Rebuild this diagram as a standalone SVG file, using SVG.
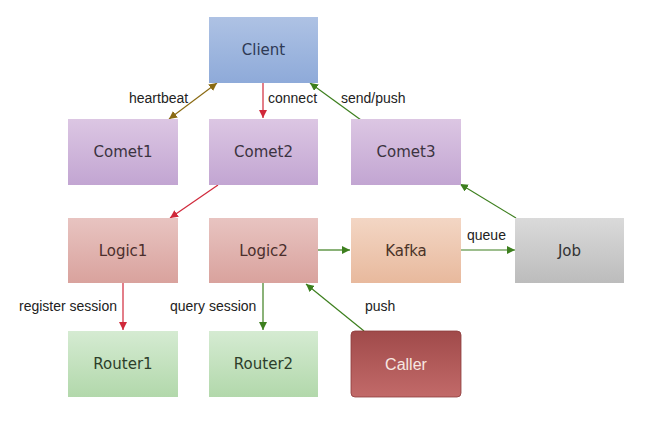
<svg xmlns="http://www.w3.org/2000/svg" width="648" height="422" viewBox="0 0 648 422">
<defs>
<linearGradient id="gClient" x1="0" y1="0" x2="0" y2="1"><stop offset="0" stop-color="#aec2e4"/><stop offset="1" stop-color="#8eaad9"/></linearGradient>
<linearGradient id="gComet" x1="0" y1="0" x2="0" y2="1"><stop offset="0" stop-color="#dcc6e3"/><stop offset="1" stop-color="#c2a5d2"/></linearGradient>
<linearGradient id="gLogic" x1="0" y1="0" x2="0" y2="1"><stop offset="0" stop-color="#e8c4c1"/><stop offset="1" stop-color="#d9a29d"/></linearGradient>
<linearGradient id="gKafka" x1="0" y1="0" x2="0" y2="1"><stop offset="0" stop-color="#f3d6c4"/><stop offset="1" stop-color="#e8b99d"/></linearGradient>
<linearGradient id="gJob" x1="0" y1="0" x2="0" y2="1"><stop offset="0" stop-color="#dadada"/><stop offset="1" stop-color="#bcbcbc"/></linearGradient>
<linearGradient id="gRouter" x1="0" y1="0" x2="0" y2="1"><stop offset="0" stop-color="#d5ebd2"/><stop offset="1" stop-color="#b2d8ab"/></linearGradient>
<linearGradient id="gCaller" x1="0" y1="0" x2="0" y2="1"><stop offset="0" stop-color="#a04a4a"/><stop offset="1" stop-color="#c26a69"/></linearGradient>
<marker id="aRed" viewBox="0 0 10 10" refX="10" refY="5" markerWidth="8" markerHeight="8" markerUnits="userSpaceOnUse" orient="auto"><path d="M0,0 L10,5 L0,10 z" fill="#d0283a"/></marker>
<marker id="aGreen" viewBox="0 0 10 10" refX="10" refY="5" markerWidth="8" markerHeight="8" markerUnits="userSpaceOnUse" orient="auto"><path d="M0,0 L10,5 L0,10 z" fill="#3d7f1e"/></marker>
<marker id="aOlive" viewBox="0 0 10 10" refX="10" refY="5" markerWidth="8" markerHeight="8" markerUnits="userSpaceOnUse" orient="auto-start-reverse"><path d="M0,0 L10,5 L0,10 z" fill="#8a6a12"/></marker>
</defs>
<style>
.node text{font-family:"DejaVu Sans",Verdana,sans-serif;font-size:15px;fill:#3b3340;text-anchor:middle;dominant-baseline:central}
.lbl{font-family:"Liberation Sans",Arial,sans-serif;font-size:14px;fill:#222}
.red{stroke:#d0283a;stroke-width:1.2;fill:none}
.green{stroke:#3d7f1e;stroke-width:1.2;fill:none}
.olive{stroke:#8a6a12;stroke-width:1.2;fill:none}
</style>
<rect width="648" height="422" fill="#ffffff"/>
<g id="connectors">
<line class="olive" x1="169" y1="119" x2="217" y2="83" marker-start="url(#aOlive)" marker-end="url(#aOlive)"/>
<line class="red" x1="263" y1="83" x2="263" y2="118" marker-end="url(#aRed)"/>
<line class="green" x1="361" y1="120" x2="310" y2="83" marker-end="url(#aGreen)"/>
<line class="red" x1="218" y1="185" x2="170" y2="218" marker-end="url(#aRed)"/>
<line class="green" x1="516" y1="218" x2="460" y2="184" marker-end="url(#aGreen)"/>
<line class="green" x1="318" y1="250" x2="350" y2="250" marker-end="url(#aGreen)"/>
<line class="green" x1="461" y1="250" x2="515" y2="250" marker-end="url(#aGreen)"/>
<line class="red" x1="123" y1="283" x2="123" y2="330" marker-end="url(#aRed)"/>
<line class="green" x1="263" y1="283" x2="263" y2="330" marker-end="url(#aGreen)"/>
<line class="green" x1="364" y1="331" x2="306" y2="284" marker-end="url(#aGreen)"/>
<text class="lbl" x="129" y="103">heartbeat</text>
<text class="lbl" x="268" y="103">connect</text>
<text class="lbl" x="341" y="103">send/push</text>
<text class="lbl" x="467" y="240">queue</text>
<text class="lbl" x="19" y="311">register session</text>
<text class="lbl" x="170" y="311">query session</text>
<text class="lbl" x="365" y="311">push</text>
</g>
<g id="client" class="node"><rect x="209" y="17" width="109" height="66" fill="url(#gClient)"/><text x="263.5" y="50" style="fill:#2e3a55">Client</text></g>
<g id="comet1" class="node"><rect x="68" y="119" width="110" height="66" fill="url(#gComet)"/><text x="123" y="152">Comet1</text></g>
<g id="comet2" class="node"><rect x="209" y="119" width="109" height="66" fill="url(#gComet)"/><text x="263.5" y="152">Comet2</text></g>
<g id="comet3" class="node"><rect x="351" y="119" width="110" height="66" fill="url(#gComet)"/><text x="406" y="152">Comet3</text></g>
<g id="logic1" class="node"><rect x="68" y="218" width="110" height="65" fill="url(#gLogic)"/><text x="123" y="250.5" style="fill:#4a2e2c">Logic1</text></g>
<g id="logic2" class="node"><rect x="209" y="218" width="109" height="65" fill="url(#gLogic)"/><text x="263.5" y="250.5" style="fill:#4a2e2c">Logic2</text></g>
<g id="kafka" class="node"><rect x="351" y="218" width="110" height="65" fill="url(#gKafka)"/><text x="406" y="250.5" style="fill:#4a3328">Kafka</text></g>
<g id="job" class="node"><rect x="515" y="218" width="109" height="65" fill="url(#gJob)"/><text x="569.5" y="250.5" style="fill:#333">Job</text></g>
<g id="router1" class="node"><rect x="68" y="331" width="110" height="66" fill="url(#gRouter)"/><text x="123" y="364" style="fill:#2c3e2a">Router1</text></g>
<g id="router2" class="node"><rect x="209" y="331" width="109" height="66" fill="url(#gRouter)"/><text x="263.5" y="364" style="fill:#2c3e2a">Router2</text></g>
<g id="caller" class="node"><rect x="351" y="331" width="110" height="66" rx="4" ry="4" fill="url(#gCaller)" stroke="#8e3c3c" stroke-width="0.8"/><text x="406" y="364" style="fill:#f7e8e2;font-family:'Liberation Sans',Arial,sans-serif;font-size:16px">Caller</text></g>
</svg>
